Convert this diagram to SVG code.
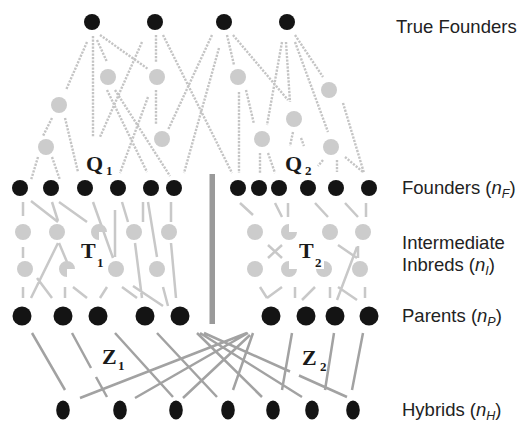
<svg xmlns="http://www.w3.org/2000/svg" width="525" height="423" viewBox="0 0 525 423">
<style>
.dot{stroke:#c4c4c4;stroke-width:2.4;stroke-dasharray:2.2 1.3;fill:none}
.mid{stroke:#c8c8c8;stroke-width:2.5;fill:none}
.bot{stroke:#a2a2a2;stroke-width:2.5;fill:none}
.blk{fill:#141414}
.gry{fill:#cccccc}
.lbl{font-family:"Liberation Sans",Arial,sans-serif;font-size:18.5px;fill:#222}
.it{font-style:italic}
.big{font-family:"Liberation Serif","Times New Roman",serif;font-weight:bold;font-size:22px;fill:#1a1a1a}
.sub{font-size:13px}
</style>
<rect width="525" height="423" fill="#fff"/>
<g id="connectors">
<g id="dotted">
<path class="dot" d="M87 42L66 90M93 36V137M97 40L107 62M100 35L148 69M142 42L100 137M156 35V62M163 35L232 173M212 35L168 130M219 48L184 173M227 35L234 65M233 35L288 100M282 42L267 125M286 42L290 102M295 35L323 77M295 42L328 132M52 118L43 136M65 118L78 172M38 157L31 180M52 157L60 180M107 90L147 172M115 90L170 176M156 90V125M148 97L120 173M239 92V173M246 90L254 124M260 153V173M268 153L275 173M293 132L290 146M301 138L304 146M343 103L364 173M323 160L318 166M337 160V172M345 157L363 172"/>
</g>
<g id="solid">
<path class="mid" d="M23 202V216M31 201L58 222M52 202L58 221M59 202L87 222M93 202L113 258M115 210V257M122 202L128 222M143 202V222M148 202L157 257M171 202V222M23 247V258M58 243L31 298M59 243L67 262M135 243L142 298M171 243L176 298M23 287V298M37 278L52 298M65 287V298M73 287L87 298M107 287L100 298M122 287L137 298M133 286L163 306M163 287L168 306"/>
<path class="mid" d="M240 203L253 215M275 203L282 217M288 203V217M315 203L328 217M345 203L358 217M366 203V217M268 245L282 258M282 245L268 258M338 245L357 258M358 246V258M357 247L337 300M260 287L267 298M282 287L267 298M295 287V298M315 287L302 300M330 287V298M338 287L357 300M365 287V298"/>
</g>
<g id="hybrid-links">
<path class="bot" d="M32 333L65 390M72 333L91 368M96 377L107 397M115 333L173 397M157 333L217 397M197 333L262 397M200 333L302 397M204 333L290 371.5M299 375.5L347 397M247 333L80 398M248 333L135 398M250 335L183 398M253 333L233 390M292 333L282 390M334 333L325 390M363 333L352 390"/>
</g>
<rect id="divider" x="209.5" y="174" width="5.5" height="150" fill="#9a9a9a"/>
</g>
<g id="true-founders">
<g id="tf1"><circle class="blk" cx="92" cy="22" r="8"/></g>
<g id="tf2"><circle class="blk" cx="155" cy="22" r="8"/></g>
<g id="tf3"><circle class="blk" cx="224" cy="22" r="8"/></g>
<g id="tf4"><circle class="blk" cx="287" cy="22" r="8"/></g>
</g>
<g id="ancestors">
<g id="a1"><circle class="gry" cx="108" cy="77" r="8"/></g>
<g id="a2"><circle class="gry" cx="157" cy="77" r="8"/></g>
<g id="a3"><circle class="gry" cx="238" cy="77" r="8"/></g>
<g id="a4"><circle class="gry" cx="329" cy="90" r="8"/></g>
<g id="a5"><circle class="gry" cx="59" cy="105" r="8"/></g>
<g id="a6"><circle class="gry" cx="294" cy="119" r="8"/></g>
<g id="a7"><circle class="gry" cx="46" cy="147" r="8"/></g>
<g id="a8"><circle class="gry" cx="162" cy="139" r="8"/></g>
<g id="a9"><circle class="gry" cx="262" cy="139" r="8"/></g>
<g id="a10"><circle class="gry" cx="331" cy="147" r="8"/></g>
</g>
<g id="founders">
<g id="f1"><circle class="blk" cx="20" cy="188" r="8"/></g>
<g id="f2"><circle class="blk" cx="51" cy="188" r="8"/></g>
<g id="f3"><circle class="blk" cx="85" cy="188" r="8"/></g>
<g id="f4"><circle class="blk" cx="118" cy="188" r="8"/></g>
<g id="f5"><circle class="blk" cx="151" cy="188" r="8"/></g>
<g id="f6"><circle class="blk" cx="174" cy="188" r="8"/></g>
<g id="f7"><circle class="blk" cx="238" cy="188" r="8"/></g>
<g id="f8"><circle class="blk" cx="259" cy="188" r="8"/></g>
<g id="f9"><circle class="blk" cx="279" cy="188" r="8"/></g>
<g id="f10"><circle class="blk" cx="308" cy="188" r="8"/></g>
<g id="f11"><circle class="blk" cx="336" cy="188" r="8"/></g>
<g id="f12"><circle class="blk" cx="369" cy="188" r="8"/></g>
</g>
<g id="inbreds">
<g id="i1"><circle class="gry" cx="23" cy="232" r="8"/></g>
<g id="i2"><circle class="gry" cx="57" cy="232" r="8"/></g>
<g id="i3"><path class="gry" d="M99 232L99 240A8 8 0 1 1 107 232Z"/></g>
<g id="i4"><circle class="gry" cx="134" cy="232" r="8"/></g>
<g id="i5"><circle class="gry" cx="169" cy="232" r="8"/></g>
<g id="i6"><circle class="gry" cx="255" cy="232" r="8"/></g>
<g id="i7"><path class="gry" d="M289 232L297 232A8 8 0 1 1 289 224Z"/></g>
<g id="i8"><circle class="gry" cx="330" cy="232" r="8"/></g>
<g id="i9"><circle class="gry" cx="363" cy="232" r="8"/></g>
<g id="j1"><circle class="gry" cx="25" cy="269" r="8"/></g>
<g id="j2"><path class="gry" d="M67 269L67 277A8 8 0 1 1 75 269Z"/></g>
<g id="j3"><circle class="gry" cx="116" cy="269" r="8"/></g>
<g id="j4"><circle class="gry" cx="157" cy="269" r="8"/></g>
<g id="j5"><circle class="gry" cx="255" cy="269" r="8"/></g>
<g id="j6"><path class="gry" d="M289 269L297 269A8 8 0 1 1 289 261Z"/></g>
<g id="j7"><path class="gry" d="M324 269L324 261A8 8 0 1 1 316 269Z"/></g>
<g id="j8"><circle class="gry" cx="360" cy="269" r="8"/></g>
</g>
<g id="parents">
<g id="p1"><circle class="blk" cx="22" cy="316" r="9.5"/></g>
<g id="p2"><circle class="blk" cx="63" cy="316" r="9.5"/></g>
<g id="p3"><circle class="blk" cx="98" cy="316" r="9.5"/></g>
<g id="p4"><circle class="blk" cx="145" cy="316" r="9.5"/></g>
<g id="p5"><circle class="blk" cx="180" cy="316" r="9.5"/></g>
<g id="p6"><circle class="blk" cx="271" cy="316" r="9.5"/></g>
<g id="p7"><circle class="blk" cx="306" cy="316" r="9.5"/></g>
<g id="p8"><circle class="blk" cx="335" cy="316" r="9.5"/></g>
<g id="p9"><circle class="blk" cx="369" cy="316" r="9.5"/></g>
</g>
<g id="hybrids">
<g id="h1"><ellipse class="blk" cx="63" cy="410" rx="6.8" ry="9.5"/></g>
<g id="h2"><ellipse class="blk" cx="120" cy="410" rx="6.8" ry="9.5"/></g>
<g id="h3"><ellipse class="blk" cx="176" cy="410" rx="6.8" ry="9.5"/></g>
<g id="h4"><ellipse class="blk" cx="228" cy="410" rx="6.8" ry="9.5"/></g>
<g id="h5"><ellipse class="blk" cx="273" cy="410" rx="6.8" ry="9.5"/></g>
<g id="h6"><ellipse class="blk" cx="312" cy="410" rx="6.8" ry="9.5"/></g>
<g id="h7"><ellipse class="blk" cx="353" cy="410" rx="6.8" ry="9.5"/></g>
</g>
<g id="set-labels">
<text class="big" x="86" y="171">Q<tspan class="sub" x="106" y="175">1</tspan></text>
<text class="big" x="285" y="171">Q<tspan class="sub" x="305" y="175">2</tspan></text>
<text class="big" x="81" y="258">T<tspan class="sub" x="97" y="267">1</tspan></text>
<text class="big" x="299" y="258">T<tspan class="sub" x="315" y="267">2</tspan></text>
<text class="big" x="102" y="364">Z<tspan class="sub" x="118" y="370">1</tspan></text>
<text class="big" x="302" y="365">Z<tspan class="sub" x="320" y="371">2</tspan></text>
</g>
<g id="row-labels">
<text class="lbl" x="396" y="33">True Founders</text>
<text class="lbl" x="402" y="194">Founders (<tspan class="it">n</tspan><tspan class="it" font-size="12.5" dy="4">F</tspan><tspan dy="-4">)</tspan></text>
<text class="lbl" x="402" y="249">Intermediate</text>
<text class="lbl" x="402" y="271">Inbreds (<tspan class="it">n</tspan><tspan class="it" font-size="12.5" dy="4">I</tspan><tspan dy="-4">)</tspan></text>
<text class="lbl" x="402" y="322">Parents (<tspan class="it">n</tspan><tspan class="it" font-size="12.5" dy="4">P</tspan><tspan dy="-4">)</tspan></text>
<text class="lbl" x="402" y="416">Hybrids (<tspan class="it">n</tspan><tspan class="it" font-size="12.5" dy="4">H</tspan><tspan dy="-4">)</tspan></text>
</g>
</svg>
